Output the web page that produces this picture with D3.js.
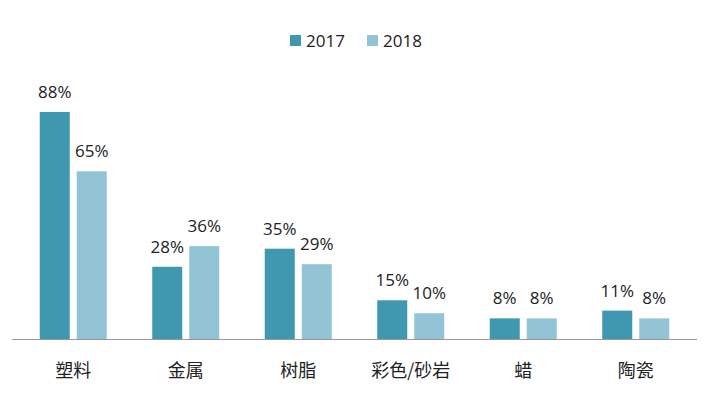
<!DOCTYPE html>
<html><head><meta charset="utf-8">
<script src="https://cdn.jsdelivr.net/npm/d3@7"></script>
<style>body{margin:0;background:#fff}svg{display:block}</style>
</head><body>
<svg id="c" width="712" height="401"></svg>
<script>
const categories = ["塑料","金属","树脂","彩色/砂岩","蜡","陶瓷"];
const seriesNames = ["2017","2018"];
const values2017 = [88,28,35,15,8,11];
const values2018 = [65,36,29,10,8,8];
const colors = ["#3F98AF","#93C4D6"];

const svg = d3.select("#c");
const x = d3.scaleBand().domain(categories).range([17,692]);
const xi = d3.scaleBand().domain(seriesNames).range([0,67]).paddingInner(7/37);
const y = d3.scaleLinear().domain([0,100]).range([339,81]);
const series = [values2017, values2018];
const font = "'Open Sans','Noto Sans',sans-serif";

series.forEach((vals, si) => {
  const g = svg.append("g");
  g.selectAll("rect").data(vals).enter().append("rect")
    .attr("x", (d,i) => x(categories[i]) + x.bandwidth()/2 - 33.5 + xi(seriesNames[si]))
    .attr("width", xi.bandwidth())
    .attr("y", d => y(d))
    .attr("height", d => y(0) - y(d))
    .attr("fill", colors[si]);
  g.selectAll("text").data(vals).enter().append("text")
    .attr("x", (d,i) => x(categories[i]) + x.bandwidth()/2 - 33.5 + xi(seriesNames[si]) + xi.bandwidth()/2)
    .attr("y", d => y(d) - 14)
    .attr("text-anchor","middle")
    .attr("font-family", font).attr("font-size", 17).attr("fill","#222")
    .text(d => d + "%");
});

// axis
const axis = svg.append("g").attr("transform","translate(0,339)")
  .call(d3.axisBottom(x).tickSize(0).tickPadding(20));
axis.select(".domain").attr("d","M12,0.5H697").attr("stroke","#999");
axis.selectAll(".tick text").attr("font-family","'Noto Sans CJK SC',sans-serif")
  .attr("font-size",18).attr("fill","#222").attr("dy","0.35em").attr("y",32);

// legend
const legendX = [290, 367];
seriesNames.forEach((s, i) => {
  svg.append("rect").attr("x", legendX[i]).attr("y", 35).attr("width", 11).attr("height", 11).attr("fill", colors[i]);
  svg.append("text").attr("x", legendX[i] + 16).attr("y", 47)
    .attr("font-family", font).attr("font-size", 17).attr("fill","#222").text(s);
});
</script>
</body></html>
